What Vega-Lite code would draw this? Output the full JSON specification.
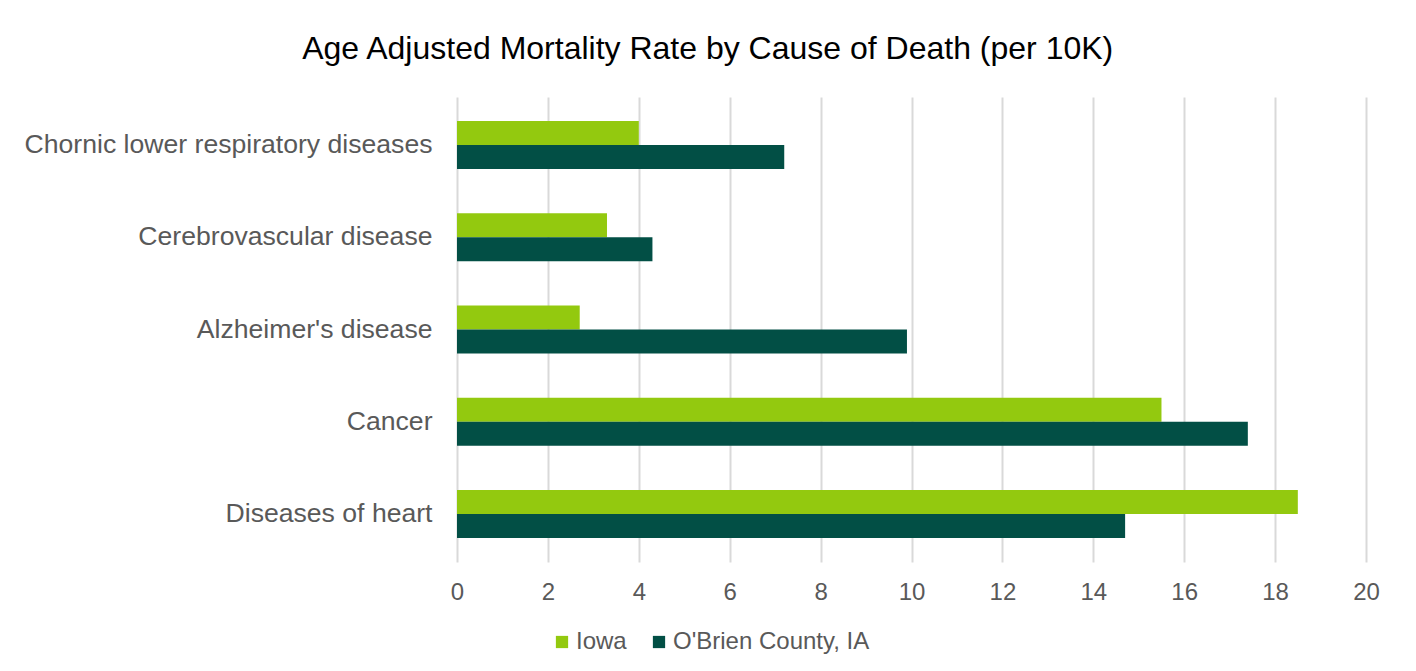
{
  "$schema": "https://vega.github.io/schema/vega-lite/v6.json",
  "autosize": {"type": "none"},
  "width": 909,
  "height": 465,
  "padding": {"left": 457, "top": 97, "right": 50, "bottom": 109},
  "background": "white",
  "title": {
    "text": "Age Adjusted Mortality Rate by Cause of Death (per 10K)",
    "font": "Liberation Sans",
    "fontSize": 32,
    "fontWeight": "normal",
    "color": "#000000",
    "anchor": "middle",
    "frame": "bounds",
    "offset": 31,
    "dx": 6
  },
  "data": {
    "values": [
      {"cause": "Chornic lower respiratory diseases", "series": "Iowa", "rate": 4.0},
      {"cause": "Chornic lower respiratory diseases", "series": "O'Brien County, IA", "rate": 7.2},
      {"cause": "Cerebrovascular disease", "series": "Iowa", "rate": 3.3},
      {"cause": "Cerebrovascular disease", "series": "O'Brien County, IA", "rate": 4.3},
      {"cause": "Alzheimer's disease", "series": "Iowa", "rate": 2.7},
      {"cause": "Alzheimer's disease", "series": "O'Brien County, IA", "rate": 9.9},
      {"cause": "Cancer", "series": "Iowa", "rate": 15.5},
      {"cause": "Cancer", "series": "O'Brien County, IA", "rate": 17.4},
      {"cause": "Diseases of heart", "series": "Iowa", "rate": 18.5},
      {"cause": "Diseases of heart", "series": "O'Brien County, IA", "rate": 14.7}
    ]
  },
  "mark": {"type": "bar"},
  "encoding": {
    "y": {
      "field": "cause",
      "type": "nominal",
      "sort": ["Chornic lower respiratory diseases", "Cerebrovascular disease", "Alzheimer's disease", "Cancer", "Diseases of heart"],
      "scale": {"paddingInner": 0.48, "paddingOuter": 0.26},
      "axis": {
        "title": null,
        "domain": false,
        "ticks": false,
        "grid": false,
        "labelFont": "Liberation Sans",
        "labelFontSize": 26.6,
        "labelColor": "#595959",
        "labelPadding": 25,
        "labelLimit": 1000
      }
    },
    "yOffset": {
      "field": "series",
      "type": "nominal",
      "sort": ["Iowa", "O'Brien County, IA"],
      "scale": {"paddingInner": 0, "paddingOuter": 0}
    },
    "x": {
      "field": "rate",
      "type": "quantitative",
      "scale": {"domain": [0, 20], "nice": false},
      "axis": {
        "title": null,
        "values": [0, 2, 4, 6, 8, 10, 12, 14, 16, 18, 20],
        "domain": false,
        "ticks": false,
        "grid": true,
        "gridColor": "#d9d9d9",
        "gridWidth": 2,
        "labelFlush": false,
        "labelFont": "Liberation Sans",
        "labelFontSize": 24,
        "labelColor": "#595959",
        "labelPadding": 18
      }
    },
    "color": {
      "field": "series",
      "type": "nominal",
      "sort": ["Iowa", "O'Brien County, IA"],
      "scale": {"domain": ["Iowa", "O'Brien County, IA"], "range": ["#93C90F", "#024F45"]},
      "legend": {
        "title": null,
        "orient": "none",
        "direction": "horizontal",
        "legendX": 93,
        "legendY": 533,
        "padding": 0,
        "symbolType": "square",
        "symbolSize": 150,
        "symbolStrokeWidth": 0,
        "labelFont": "Liberation Sans",
        "labelFontSize": 24,
        "labelColor": "#595959",
        "labelOffset": 2,
        "labelLimit": 1000,
        "columnPadding": 20
      }
    }
  },
  "config": {
    "view": {"stroke": null}
  }
}
